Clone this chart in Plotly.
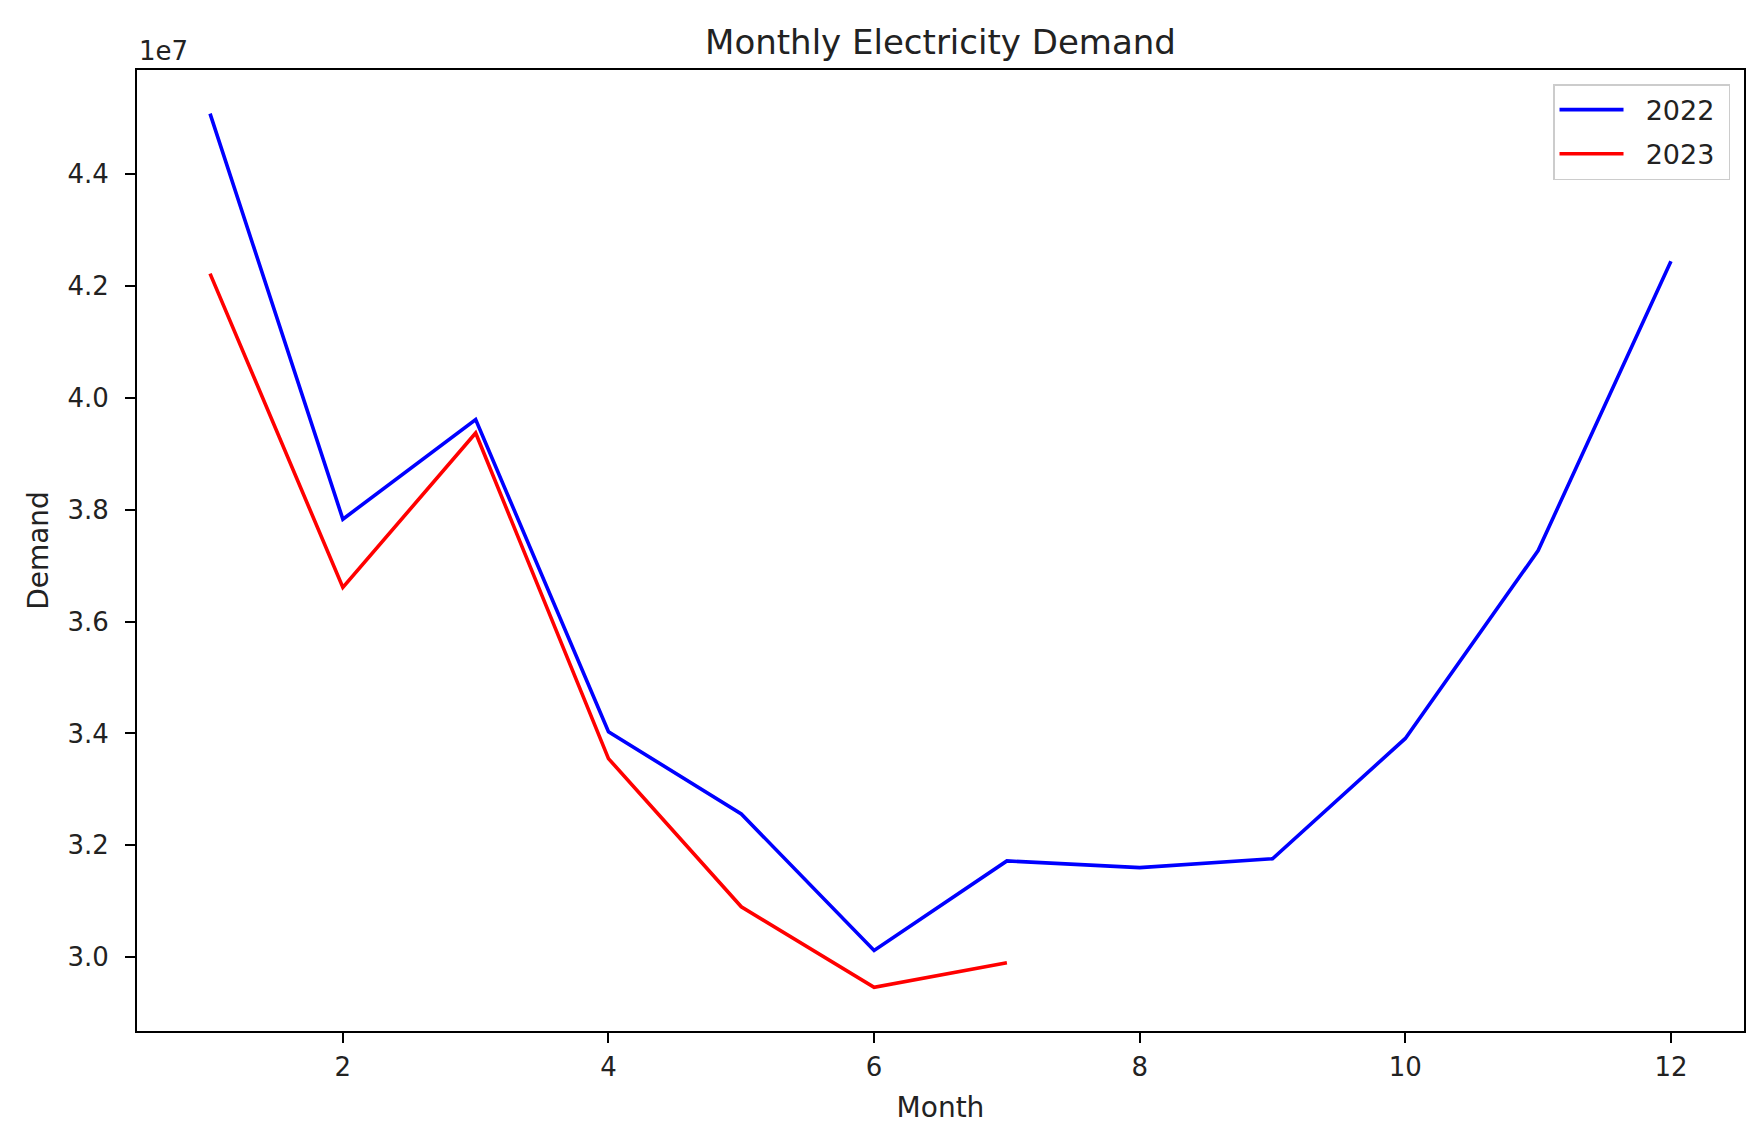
import plotly.graph_objects as go

# Monthly demand
months_2022 = [1, 2, 3, 4, 5, 6, 7, 8, 9, 10, 11, 12]
demand_2022 = [45080000, 37830000, 39610000, 34030000, 32560000, 30120000,
               31720000, 31600000, 31760000, 33910000, 37270000, 42440000]

months_2023 = [1, 2, 3, 4, 5, 6, 7]
demand_2023 = [42220000, 36610000, 39370000, 33550000, 30900000, 29460000, 29900000]

y_tick_vals = [30000000, 32000000, 34000000, 36000000, 38000000, 40000000, 42000000, 44000000]
y_tick_text = ["3.0", "3.2", "3.4", "3.6", "3.8", "4.0", "4.2", "4.4"]
x_tick_vals = [2, 4, 6, 8, 10, 12]

FONT = "DejaVu Sans"
INK = "#222222"

fig = go.Figure()
# non-breaking spaces give the matplotlib-like padding around legend text
fig.add_trace(go.Scatter(x=months_2022, y=demand_2022, mode="lines",
                         name="\u00a0\u00a02022\u00a0", legendgroup="a",
                         line=dict(color="blue", width=3.6)))
fig.add_trace(go.Scatter(x=months_2023, y=demand_2023, mode="lines",
                         name="\u00a0\u00a02023\u00a0", legendgroup="b",
                         line=dict(color="red", width=3.6)))

axis_common = dict(
    showline=True, linecolor="black", linewidth=2, mirror=True,
    ticks="outside", ticklen=10, tickwidth=2, tickcolor="black",
    showgrid=False, zeroline=False,
    tickfont=dict(family=FONT, size=26, color=INK),
)

fig.update_xaxes(
    range=[0.45, 12.55], tickvals=x_tick_vals, ticklabelstandoff=2,
    title=dict(text="Month", font=dict(family=FONT, size=28, color=INK), standoff=16),
    **axis_common,
)
fig.update_yaxes(
    range=[28680000, 45860000], tickvals=y_tick_vals, ticktext=y_tick_text,
    ticklabelstandoff=11,
    title=dict(text="Demand", font=dict(family=FONT, size=28, color=INK), standoff=11),
    **axis_common,
)

# matplotlib-style offset text
fig.add_annotation(text="1e7", xref="paper", yref="paper", x=0, y=1,
                   xanchor="left", yanchor="bottom", showarrow=False, yshift=2,
                   font=dict(family=FONT, size=26, color=INK))

fig.update_layout(
    width=1756, height=1132,
    margin=dict(l=129, r=20, t=62, b=109),
    paper_bgcolor="white", plot_bgcolor="white",
    title=dict(text="Monthly Electricity Demand", x=0.5, xref="paper",
               y=1 - 34 / 1132, yanchor="middle",
               font=dict(family=FONT, size=34, color=INK)),
    legend=dict(x=0.9913, y=0.9854, xanchor="right", yanchor="top",
                bordercolor="#cccccc", borderwidth=1.5, bgcolor="rgba(255,255,255,0.8)",
                font=dict(family=FONT, size=27, color=INK),
                itemwidth=64, tracegroupgap=6),
    showlegend=True,
)

fig.write_html("out.html")
